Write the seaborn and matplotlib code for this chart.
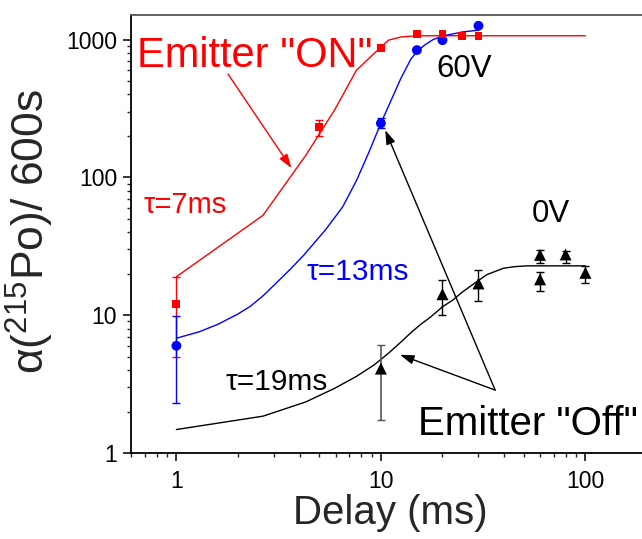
import numpy as np
import pandas as pd
import matplotlib
matplotlib.use("Agg")
import matplotlib.pyplot as plt
import seaborn as sns
from matplotlib.ticker import LogLocator, FixedLocator, FixedFormatter, NullFormatter

# ---------------- data ----------------
# Emitter "ON" (red squares)
on_x = [1, 5, 10, 15, 20, 25, 30]
on_y = [12, 231, 865, 1090, 1090, 1066, 1066]
on_err_x = [1, 5]
on_err_y = [12, 231]
on_err_lo = [5, 200]
on_err_hi = [19, 262]
fit_on_x = [1, 2.65, 4.3, 5.95, 7.6, 9.25, 10.9, 12.55, 14.2, 15.85, 20, 100]
fit_on_y = [19, 53, 145, 310, 600, 790, 990, 1045, 1060, 1065, 1066, 1066]

# 60V (blue circles)
v60_x = [1, 10, 15, 20, 30]
v60_y = [6, 247, 839, 990, 1259]
v60_err_x = [1, 10]
v60_err_y = [6, 247]
v60_err_lo = [2.3, 230]
v60_err_hi = [9.8, 268]
fit_60_x = [1, 1.3, 1.6, 2, 2.3, 2.65, 3.0, 3.6, 4.2, 5.35, 6.5, 7.6, 8.7, 10,
            12.5, 14, 15, 16.5, 18, 20, 25, 30]
fit_60_y = [6.8, 7.6, 8.6, 10.2, 11.6, 13.8, 16.5, 21.5, 27.3, 41.5, 61, 95, 150, 247,
            520, 720, 820, 920, 1000, 1060, 1135, 1170]

# 0V (black triangles)
v0_x = [10, 20, 30, 60, 60, 80, 100]
v0_y = [4.1, 14.2, 17.0, 27.4, 18.2, 27.6, 20.3]
v0_lo = [1.75, 10.1, 12.6, 24.0, 15.0, 24.0, 17.0]
v0_hi = [6.1, 17.9, 21.1, 29.7, 20.6, 29.3, 22.7]
fit_0_x = [1, 2.65, 4.3, 5.95, 7.6, 9.25, 10.9, 12.55, 14.2, 15.85, 17.5, 20, 22.5,
           25, 29.4, 33, 39.7, 45, 51.7, 60, 100]
fit_0_y = [1.48, 1.85, 2.35, 2.95, 3.6, 4.35, 5.3, 6.4, 7.6, 8.7, 9.7, 11.5, 12.9,
           14.7, 17.5, 19.7, 21.9, 22.5, 22.8, 22.8, 22.8]

x_ticks = [1, 10, 100]
x_tick_labels = ["1", "10", "100"]
y_ticks = [1, 10, 100, 1000]
y_tick_labels = ["1", "10", "100", "1000"]

RED = "#ff0000"
BLUE = "#0000ff"
BLACK = "#000000"

# ---------------- style ----------------
sns.set_style("ticks")
plt.rcParams["font.family"] = ["Liberation Sans", "DejaVu Sans"]
plt.rcParams["mathtext.fontset"] = "custom"
plt.rcParams["mathtext.rm"] = "Liberation Sans"
plt.rcParams["mathtext.default"] = "regular"

fig = plt.figure(figsize=(6.42, 5.39), dpi=100)
W, H = 642, 539
left, right, top, bottom = 131, 647, 15.3, 453
ax = fig.add_axes([left / W, (H - bottom) / H, (right - left) / W, (bottom - top) / H])
ax.set_xscale("log")
ax.set_yscale("log")
ax.set_xlim(0.6, 200)
ax.set_ylim(1, 1500)

# fit curves
sns.lineplot(x=fit_on_x, y=fit_on_y, sort=False, estimator=None, color=RED, lw=1.0, ax=ax)
sns.lineplot(x=fit_60_x, y=fit_60_y, sort=False, estimator=None, color=BLUE, lw=1.0, ax=ax)
sns.lineplot(x=fit_0_x, y=fit_0_y, sort=False, estimator=None, color=BLACK, lw=1.0, ax=ax)

# error bars
def errs(y, lo, hi):
    y = np.asarray(y, float)
    return [y - np.asarray(lo, float), np.asarray(hi, float) - y]

ax.errorbar(on_err_x, on_err_y, yerr=errs(on_err_y, on_err_lo, on_err_hi), fmt="none",
            ecolor=RED, elinewidth=1.0, capsize=3.2, capthick=1.0)
ax.errorbar(v60_err_x, v60_err_y, yerr=errs(v60_err_y, v60_err_lo, v60_err_hi), fmt="none",
            ecolor=BLUE, elinewidth=1.0, capsize=3.2, capthick=1.0)
ax.errorbar(v0_x[:1], v0_y[:1], yerr=errs(v0_y[:1], v0_lo[:1], v0_hi[:1]), fmt="none",
            ecolor="#555555", elinewidth=1.2, capsize=3.2, capthick=1.0)
ax.errorbar(v0_x[1:], v0_y[1:], yerr=errs(v0_y[1:], v0_lo[1:], v0_hi[1:]), fmt="none",
            ecolor=BLACK, elinewidth=1.0, capsize=3.2, capthick=1.0)

# markers
sns.scatterplot(x=on_x, y=on_y, marker="s", s=32, color=RED, edgecolor="none", linewidth=0, ax=ax, zorder=4)
sns.scatterplot(x=v60_x, y=v60_y, marker="o", s=50, color=BLUE, edgecolor="none", linewidth=0, ax=ax, zorder=3)
sns.scatterplot(x=v0_x, y=v0_y, marker="^", s=75, color=BLACK, edgecolor="none", linewidth=0, ax=ax, zorder=4)

# axes styling
for side in ["left", "bottom"]:
    ax.spines[side].set_color("black")
    ax.spines[side].set_linewidth(1.3)
ax.spines["top"].set_color("#555555")
ax.spines["top"].set_linewidth(1.3)
ax.spines["right"].set_visible(False)

ax.xaxis.set_major_locator(FixedLocator(x_ticks))
ax.xaxis.set_major_formatter(FixedFormatter(x_tick_labels))
ax.yaxis.set_major_locator(FixedLocator(y_ticks))
ax.yaxis.set_major_formatter(FixedFormatter(y_tick_labels))
ax.xaxis.set_minor_locator(LogLocator(base=10, subs=np.arange(2, 10), numticks=20))
ax.yaxis.set_minor_locator(LogLocator(base=10, subs=np.arange(2, 10), numticks=20))
ax.xaxis.set_minor_formatter(NullFormatter())
ax.yaxis.set_minor_formatter(NullFormatter())
ax.tick_params(which="major", direction="out", length=6, width=1.1, labelsize=16.5,
               colors="black", pad=4, top=False, right=False)
ax.tick_params(which="minor", direction="out", length=3, width=1.0, top=False, right=False)
ax.tick_params(axis="x", which="major", pad=6)

ax.set_xlabel("Delay (ms)", fontsize=29)
ax.xaxis.set_label_coords((390 - left) / (right - left), (bottom - 494) / (bottom - top))
ax.set_ylabel(r"α($^{215}$Po)/ 600s", fontsize=32)
ax.yaxis.set_label_coords((30 - left) / (right - left), (bottom - 232) / (bottom - top))
ax.yaxis.label.set_va("center")

# annotations
ax.text(0.643, 635, 'Emitter "ON"', color=RED, fontsize=30, ha="left", va="baseline")
ax.text(18.6, 537, "60V", color=BLACK, fontsize=22.5, ha="left", va="baseline")
ax.text(0.692, 54.8, "τ=7ms", color=RED, fontsize=21, ha="left", va="baseline")
ax.text(4.35, 18.0, "τ=13ms", color=BLUE, fontsize=21.5, ha="left", va="baseline")
ax.text(1.735, 2.86, "τ=19ms", color=BLACK, fontsize=21.5, ha="left", va="baseline")
ax.text(54.6, 47.6, "0V", color=BLACK, fontsize=22.5, ha="left", va="baseline")
ax.text(15.1, 1.35, 'Emitter "Off"', color=BLACK, fontsize=29, ha="left", va="baseline")

arrow_kw = dict(arrowstyle="-|>,head_length=0.6,head_width=0.2", mutation_scale=14,
                lw=1.0, shrinkA=0, shrinkB=0)
ax.annotate("", xy=(3.65, 116.8), xytext=(1.789, 562), arrowprops=dict(color=RED, **arrow_kw))
ax.annotate("", xy=(10.5, 220), xytext=(36.2, 2.86), arrowprops=dict(color=BLACK, **arrow_kw))
ax.annotate("", xy=(12.4, 5.16), xytext=(36.2, 2.86), arrowprops=dict(color=BLACK, **arrow_kw))

fig.savefig("out.png", dpi=100)
